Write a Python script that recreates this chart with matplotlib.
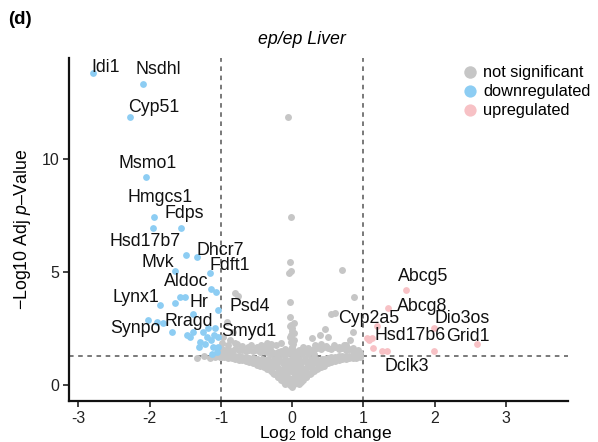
import numpy as np
import matplotlib.pyplot as plt

plt.rcParams['font.family'] = ['Liberation Sans', 'DejaVu Sans']
plt.rcParams['mathtext.fontset'] = 'custom'
plt.rcParams['mathtext.rm'] = 'Liberation Sans'
plt.rcParams['mathtext.it'] = 'Liberation Sans:italic'

# not significant genes
col_x = [-0.03, 0.0, 0.03, -0.04, 0.01, 0.04, -0.02, 0.02, -0.05, 0.0, 0.03,
         -0.03, 0.01, -0.04, 0.02, 0.0, -0.02, 0.03, -0.01, 0.0, -0.03, 0.02,
         -0.02, 0.01, -0.03, 0.02, 0.0, -0.01, 0.01, -0.02]
col_y = [0.0, -0.1, 0.05, 0.3, 0.25, 0.35, 0.6, 0.55, 0.7, 0.9, 0.85,
         1.1, 1.2, 1.4, 1.5, 1.7, 1.9, 2.0, 2.2, 2.4, 2.6, 2.75,
         1.6, 1.8, 2.1, 2.3, 2.5, 2.65, 1.3, 1.0]

left_x = [-1.00, -0.95, -0.90, -0.85, -0.80, -0.75, -0.70, -0.65, -0.60, -0.55,
          -0.50, -0.45, -0.40, -0.35, -0.30, -0.25, -0.20, -0.15, -0.10]
left_up = [1.65, 1.55, 1.60, 1.50, 1.60, 1.55, 1.55, 1.50, 1.55, 1.50,
           1.55, 1.45, 1.50, 1.45, 1.50, 1.40, 1.45, 1.50, 1.60]
left_mid = [1.40, 1.35, 1.35, 1.30, 1.30, 1.30, 1.25, 1.25, 1.20, 1.20,
            1.15, 1.10, 1.10, 1.00, 0.95, 0.85, 0.75, 0.60, 0.40]
left_low = [1.25, 1.25, 1.20, 1.20, 1.15, 1.10, 1.10, 1.05, 1.00, 0.95,
            0.90, 0.85, 0.80, 0.70, 0.60, 0.50, 0.35, 0.20, 0.05]

right_x = [0.10, 0.15, 0.20, 0.25, 0.30, 0.35, 0.40, 0.45, 0.50,
           0.55, 0.60, 0.65, 0.70, 0.75, 0.80, 0.85, 0.90, 0.95]
right_up = [1.55, 1.45, 1.50, 1.55, 1.60, 1.65, 1.60, 1.70, 1.65,
            1.60, 1.70, 1.60, 1.65, 1.55, 1.60, 1.50, 1.45, 1.40]
right_mid = [0.35, 0.55, 0.70, 0.85, 0.95, 1.05, 1.10, 1.15, 1.20,
             1.25, 1.25, 1.30, 1.30, 1.30, 1.30, 1.30, 1.30, 1.30]
right_low = [0.05, 0.20, 0.35, 0.50, 0.60, 0.70, 0.80, 0.85, 0.95,
             1.00, 1.05, 1.10, 1.15, 1.15, 1.20, 1.20, 1.20, 1.25]

# ragged top of the band
top_x = [-0.98, -0.90, -0.78, -0.70, -0.58, -0.50, -0.44, -0.30, -0.22, -0.15,
         0.15, 0.22, 0.32, 0.40, 0.48, 0.58, 0.66, 0.75, 0.85, 0.92]
top_y = [1.85, 1.75, 1.80, 1.72, 1.78, 1.70, 1.75, 1.80, 1.75, 1.85,
         1.70, 1.65, 1.75, 1.80, 1.72, 1.78, 1.70, 1.75, 1.65, 1.55]

# inside of the V
inner_x = [-0.12, -0.06, 0.06, 0.12,
           -0.20, -0.14, -0.08, 0.08, 0.14, 0.20,
           -0.27, -0.20, -0.13, -0.07, 0.07, 0.13, 0.20, 0.27,
           -0.36, -0.28, -0.20, -0.12, -0.06, 0.06, 0.12, 0.20, 0.28, 0.36,
           -0.45, -0.37, -0.29, -0.21, -0.13, -0.06, 0.06, 0.13, 0.21, 0.29, 0.37, 0.45,
           -0.50, -0.42, -0.34, -0.26, -0.18, -0.10, 0.10, 0.18, 0.26, 0.34, 0.42, 0.50,
           -0.30, -0.22, -0.14, -0.08, 0.08, 0.14, 0.22, 0.30]
inner_y = [0.15, 0.15, 0.15, 0.15,
           0.35, 0.35, 0.35, 0.35, 0.35, 0.35,
           0.55, 0.55, 0.55, 0.55, 0.55, 0.55, 0.55, 0.55,
           0.75, 0.75, 0.75, 0.75, 0.75, 0.75, 0.75, 0.75, 0.75, 0.75,
           0.95, 0.95, 0.95, 0.95, 0.95, 0.95, 0.95, 0.95, 0.95, 0.95, 0.95, 0.95,
           1.15, 1.15, 1.15, 1.15, 1.15, 1.15, 1.15, 1.15, 1.15, 1.15, 1.15, 1.15,
           1.35, 1.35, 1.35, 1.35, 1.35, 1.35, 1.35, 1.35]

scatter_x = [-0.06, -0.02, -0.03, -0.05, -0.01, -0.03, -0.03, -0.80, -0.76,
             -0.91, -0.83, -0.97, -0.87, -0.80, -0.62, -0.38, -0.31, -0.42,
             -0.35, -0.49, -1.33, -1.23, -1.15, -1.08, -1.01,
             0.70, 0.87, 0.55, 0.60, 0.46, 0.39, 0.50, 0.28, 0.81, 0.72, 0.86]
scatter_y = [11.86, 7.45, 5.45, 4.95, 5.05, 3.67, 3.0, 4.07, 3.95,
             2.8, 2.35, 2.1, 2.0, 1.85, 1.7, 1.7, 1.7, 1.7,
             1.85, 1.63, 1.2, 1.28, 1.2, 1.25, 1.24,
             5.08, 3.9, 3.14, 3.2, 2.48, 2.2, 2.1, 2.07, 2.0, 1.77, 2.35]

ns_x = col_x + left_x * 3 + right_x * 3 + top_x + inner_x + scatter_x
ns_y = (col_y + left_up + left_mid + left_low + right_up + right_mid + right_low
        + top_y + inner_y + scatter_y)

# downregulated
down_x = [-2.80, -2.09, -2.27, -2.05, -1.94, -1.95, -1.56, -1.49, -1.33, -1.64,
          -1.15, -1.14, -1.07, -1.58, -1.50, -1.86, -1.65, -1.39, -1.04, -2.02,
          -1.90, -1.81, -1.68, -1.47, -1.43, -1.39, -1.25, -1.18, -1.08, -1.04,
          -1.29, -1.22, -1.14, -1.11, -1.04, -1.12, -1.05, -1.30, -1.10, -1.20]
down_y = [13.8, 13.3, 11.86, 9.2, 7.43, 6.95, 6.95, 5.75, 5.66, 5.04,
          4.95, 4.25, 4.12, 3.9, 3.9, 3.54, 3.62, 3.14, 3.32, 2.88,
          2.79, 2.74, 2.35, 2.2, 2.13, 2.35, 2.35, 2.5, 2.5, 2.13,
          1.9, 1.8, 2.0, 1.7, 1.7, 1.37, 1.46, 1.68, 2.2, 2.1]

# upregulated
up_x = [1.60, 1.35, 1.19, 1.99, 2.59, 1.05, 1.12, 1.13, 1.26, 1.33, 1.99, 1.08]
up_y = [4.2, 3.4, 2.6, 2.5, 1.8, 2.07, 2.07, 1.63, 1.5, 1.5, 1.5, 2.0]

# gene labels and where the text sits
genes = ['Idi1', 'Nsdhl', 'Cyp51', 'Msmo1', 'Hmgcs1', 'Fdps', 'Hsd17b7', 'Dhcr7',
         'Mvk', 'Fdft1', 'Aldoc', 'Lynx1', 'Hr', 'Psd4', 'Rragd', 'Synpo', 'Smyd1',
         'Abcg5', 'Abcg8', 'Cyp2a5', 'Dio3os', 'Hsd17b6', 'Grid1', 'Dclk3']
gene_x = [-2.62, -1.88, -1.94, -2.03, -1.85, -1.51, -2.06, -1.01,
          -1.89, -0.88, -1.48, -2.19, -1.31, -0.60, -1.45, -2.20, -0.61,
          1.84, 1.82, 1.07, 2.38, 1.66, 2.47, 1.61]
gene_y = [14.03, 13.94, 12.26, 9.82, 8.28, 7.58, 6.33, 5.97,
          5.40, 5.27, 4.56, 3.89, 3.63, 3.45, 2.79, 2.48, 2.35,
          4.82, 3.45, 2.96, 2.93, 2.18, 2.16, 0.80]

grey = '#c6c6c6'
blue = '#8dcdf3'
pink = '#f7c1c5'

fig = plt.figure(figsize=(5.98, 4.42), dpi=100)
ax = fig.add_axes([0.1154, 0.0928, 0.8346, 0.776])

ax.scatter(ns_x, ns_y, s=25, c=grey, linewidths=0, label='not significant', zorder=2)
ax.scatter(down_x, down_y, s=24, c=blue, linewidths=0, label='downregulated', zorder=3)
ax.scatter(up_x, up_y, s=24, c=pink, linewidths=0, label='upregulated', zorder=3)

for xv in (-1, 1):
    ax.axvline(xv, color='#555555', ls=(0, (3, 3)), lw=1.1, zorder=1)
ax.axhline(-np.log10(0.05), color='#555555', ls=(0, (3, 3)), lw=1.1, zorder=1)

for g, gx, gy in zip(genes, gene_x, gene_y):
    ax.text(gx, gy, g, ha='center', va='center', fontsize=12.8, color='#111111', zorder=4)

ax.set_xlim(-3.13, 3.87)
ax.set_ylim(-0.71, 14.47)
ax.set_xticks([-3, -2, -1, 0, 1, 2, 3])
ax.set_xticklabels(['-3', '-2', '-1', '0', '1', '2', '3'])
ax.set_yticks([0, 5, 10])
ax.tick_params(labelsize=11.5, length=4, width=1.2, pad=3,
               color='#222222', labelcolor='#222222')
for side in ('top', 'right'):
    ax.spines[side].set_visible(False)
for side in ('left', 'bottom'):
    ax.spines[side].set_linewidth(1.6)
    ax.spines[side].set_color('#111111')

ax.set_xlabel('Log$_2$ fold change', fontsize=12.6)
ax.xaxis.set_label_coords(0.515, -0.068, transform=ax.transAxes)
ax.xaxis.label.set_va('top')
ax.set_ylabel('\u2212Log10 Adj $\\it{p}$\u2013Value', fontsize=12.8, labelpad=6)

fig.text(302 / 598, 1 - 40 / 442, 'ep/ep Liver', ha='center', va='center',
         fontsize=12.8, style='italic')
fig.text(8 / 598, 1 - 20 / 442, '(d)', ha='left', va='center',
         fontsize=13.5, fontweight='bold')

leg = ax.legend(loc='upper left', bbox_to_anchor=(0.774, 1.0), frameon=False,
                fontsize=11.8, markerscale=1.8, handletextpad=0.3,
                labelspacing=0.25, borderaxespad=0, handlelength=1.0)

fig.savefig('out.png', dpi=100)
